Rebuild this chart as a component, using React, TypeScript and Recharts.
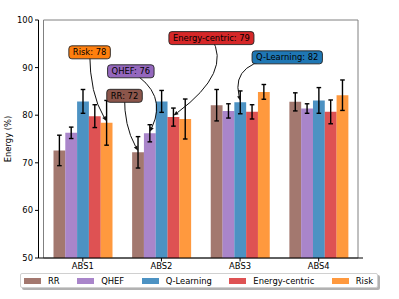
import React from "react";
import { BarChart, Bar, XAxis, YAxis, ErrorBar, LabelList, Legend, ReferenceArea } from "recharts";

// ── Data ────────────────────────────────────────────────────────────────────
const CATEGORIES = ["ABS1", "ABS2", "ABS3", "ABS4"];

const RR = [72.6, 72.2, 82.1, 82.8];
const RR_ERR = [3.2, 3.3, 3.3, 1.9];
const QHEF = [76.3, 76.2, 80.9, 81.4];
const QHEF_ERR = [1.2, 1.8, 1.5, 1.0];
const QLEARN = [82.9, 82.9, 82.7, 83.1];
const QLEARN_ERR = [2.5, 2.3, 2.4, 2.7];
const ENERGY = [79.8, 79.6, 80.7, 80.7];
const ENERGY_ERR = [2.4, 1.9, 1.5, 2.5];
const RISK = [78.4, 79.2, 84.9, 84.2];
const RISK_ERR = [4.7, 4.2, 1.55, 3.2];

const Y_TICKS = [50, 60, 70, 80, 90, 100];

const SERIES = [
  { key: "rr", name: "RR", color: "#8c564b", values: RR, errors: RR_ERR },
  { key: "qhef", name: "QHEF", color: "#9467bd", values: QHEF, errors: QHEF_ERR },
  { key: "ql", name: "Q-Learning", color: "#1f77b4", values: QLEARN, errors: QLEARN_ERR },
  { key: "ec", name: "Energy-centric", color: "#d62728", values: ENERGY, errors: ENERGY_ERR },
  { key: "risk", name: "Risk", color: "#ff7f0e", values: RISK, errors: RISK_ERR },
];

// which bar gets a callout; box/ctrl are pixel offsets from the bar top
const NOTES = [
  { key: "risk", index: 0, box: [-17, -69], ctrl: [-16.6, -27] },
  { key: "qhef", index: 1, box: [-19, -60.5], ctrl: [18, -38] },
  { key: "rr", index: 1, box: [-13.5, -55], ctrl: [-14, -25] },
  { key: "ec", index: 1, box: [38, -77.5], ctrl: [59, -44] },
  { key: "ql", index: 2, box: [47, -43.5], ctrl: [-10, -41] },
];

const data = CATEGORIES.map((name, i) => {
  const row: Record<string, string | number> = { name };
  SERIES.forEach((s) => {
    row[s.key] = s.values[i];
    row[s.key + "Err"] = s.errors[i];
  });
  return row;
});

const FONT = '"DejaVu Sans", sans-serif';
const FS = 8.4;

let measureCtx: CanvasRenderingContext2D | null = null;
function textWidth(t: string, size: number) {
  if (!measureCtx) measureCtx = document.createElement("canvas").getContext("2d");
  if (!measureCtx) return t.length * size * 0.58;
  measureCtx.font = `${size}px "DejaVu Sans"`;
  return measureCtx.measureText(t).width;
}

function noteContent(s: (typeof SERIES)[number]) {
  return (props: any) => {
    const note = NOTES.find((n) => n.key === s.key && n.index === props.index);
    if (!note) return null;
    const vb = props.viewBox ?? props;
    const px = vb.x + vb.width / 2;
    const py = vb.y - 1.5;
    const bx = px + note.box[0];
    const by = py + note.box[1];
    const cx = px + note.ctrl[0];
    const cy = py + note.ctrl[1];
    let dx = px - cx;
    let dy = py - cy;
    const len = Math.hypot(dx, dy) || 1;
    dx /= len;
    dy /= len;
    const head = 5;
    const half = 2;
    const baseX = px - dx * head;
    const baseY = py - dy * head;
    const text = `${s.name}: ${Math.floor(s.values[note.index])}`;
    const w = textWidth(text, FS) + 8;
    const h = 13;
    return (
      <g>
        <path d={`M${bx},${by} Q${cx},${cy} ${baseX},${baseY}`} fill="none" stroke="#111" strokeWidth={1} />
        <polygon
          points={`${px},${py} ${baseX - dy * half},${baseY + dx * half} ${baseX + dy * half},${baseY - dx * half}`}
          fill="#111"
        />
        <rect x={bx - w / 2} y={by - h / 2} width={w} height={h} rx={3} fill={s.color} stroke="#222" strokeWidth={0.9} />
        <text x={bx} y={by} textAnchor="middle" dominantBaseline="central" fontFamily={FONT} fontSize={FS} fill="#000">
          {text}
        </text>
      </g>
    );
  };
}

const renderLegend = () => (
  <div
    style={{
      display: "flex",
      alignItems: "center",
      height: 15,
      boxSizing: "border-box",
      padding: "0 4px 0 3px",
      border: "1px solid #d0d0d0",
      borderRadius: 2,
      background: "#fff",
      boxShadow: "2px 2px 0 rgba(0,0,0,0.3)",
      fontFamily: FONT,
      fontSize: FS,
      color: "#000",
      gap: 17.5,
      whiteSpace: "nowrap",
    }}
  >
    {SERIES.map((s) => (
      <div key={s.key} style={{ display: "flex", alignItems: "center" }}>
        <span style={{ display: "inline-block", width: 17, height: 6, background: s.color, opacity: 0.8, marginRight: 7 }} />
        <span>{s.name}</span>
      </div>
    ))}
  </div>
);

const renderYLabel = (props: any) => {
  const vb = props.viewBox ?? { x: 0, y: 20, width: 38, height: 238 };
  const y = vb.y + vb.height / 2;
  return (
    <text
      x={8}
      y={y}
      transform={`rotate(-90, 8, ${y})`}
      textAnchor="middle"
      dominantBaseline="central"
      fontFamily={FONT}
      fontSize={FS}
      fill="#000"
    >
      Energy (%)
    </text>
  );
};

const TICK = { fontSize: FS, fill: "#000", fontFamily: FONT } as const;

export default function App() {
  return (
    <div style={{ position: "absolute", left: 0, top: 0, width: 399, height: 299, background: "#fff" }}>
      <BarChart
        width={399}
        height={299}
        data={data}
        margin={{ top: 20, right: 36, bottom: 21, left: 0.5 }}
        barSize={11.8}
        barGap={0}
      >
        {/* frame: top/right spines are a lighter grey */}
        <ReferenceArea y1={50} y2={100} fill="none" stroke="#808080" strokeWidth={1} />
        <XAxis
          dataKey="name"
          padding={{ left: 5, right: 5 }}
          height={20}
          tick={TICK}
          tickSize={3.5}
          tickMargin={2}
          axisLine={{ stroke: "#000" }}
          tickLine={{ stroke: "#000" }}
        />
        <YAxis
          domain={[50, 100]}
          ticks={Y_TICKS}
          width={38}
          tick={TICK}
          tickSize={3.5}
          tickMargin={2}
          axisLine={{ stroke: "#000" }}
          tickLine={{ stroke: "#000" }}
          label={{ content: renderYLabel }}
        />
        <Legend
          layout="horizontal"
          verticalAlign="middle"
          align="center"
          wrapperStyle={{ left: 20, top: 273, width: "auto" }}
          content={renderLegend}
        />
        {SERIES.map((s) => (
          <Bar key={s.key} dataKey={s.key} name={s.name} fill={s.color} fillOpacity={0.8} isAnimationActive={false}>
            <ErrorBar
              dataKey={s.key + "Err"}
              width={2.3}
              stroke="#000"
              strokeWidth={1.4}
              direction="y"
              isAnimationActive={false}
            />
            <LabelList content={noteContent(s)} />
          </Bar>
        ))}
      </BarChart>
    </div>
  );
}
